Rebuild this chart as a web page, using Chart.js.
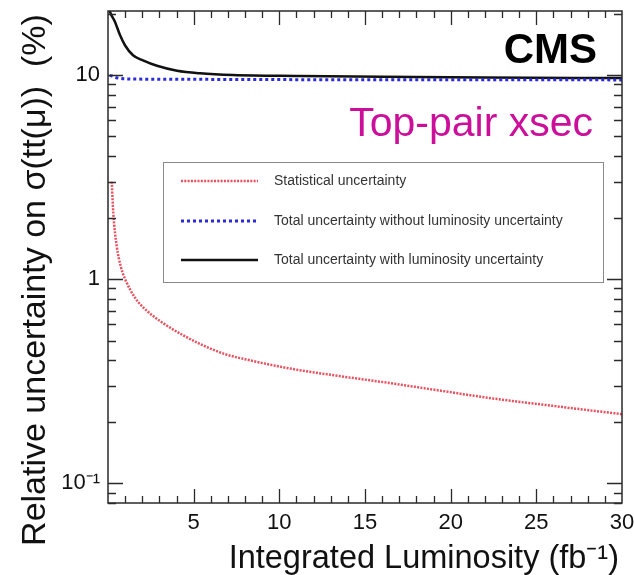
<!DOCTYPE html>
<html>
<head>
<meta charset="utf-8">
<script src="https://cdn.jsdelivr.net/npm/chart.js@4/dist/chart.umd.min.js"></script>
<style>
html,body{margin:0;padding:0;background:#fff;}
#wrap{width:634px;height:575px;position:relative;}
</style>
</head>
<body>
<div id="wrap"><canvas id="c" width="634" height="575"></canvas></div>
<script>
// ---- data ----
const statLumi = [0.22, 0.31, 0.51, 0.75, 1.0, 1.58, 2.35, 3.33, 4.4, 5.4, 6.8, 8.3, 10.6, 13.5, 16.4, 19.3, 22.2, 26.2, 30];
const statUnc  = [3.0, 2.1, 1.45, 1.15, 1.0, 0.81, 0.69, 0.60, 0.53, 0.48, 0.43, 0.40, 0.365, 0.335, 0.31, 0.285, 0.262, 0.238, 0.218];

const noLumiLumi = [0.1, 0.23, 0.5, 1.0, 2.0, 5.0, 10, 20, 30];
const noLumiUnc  = [9.95, 9.9, 9.7, 9.58, 9.55, 9.53, 9.5, 9.48, 9.47];

const withLumiLumi = [0.0, 0.12, 0.41, 0.70, 0.99, 1.46, 2.04, 2.86, 4.03, 5.37, 7.3, 11.2, 16, 22, 30];
const withLumiUnc  = [22.5, 20.4, 18.2, 15.7, 14.0, 12.5, 11.8, 11.1, 10.5, 10.2, 10.0, 9.89, 9.8, 9.72, 9.67];

const seriesLabels = [
  'Statistical uncertainty',
  'Total uncertainty without luminosity uncertainty',
  'Total uncertainty with luminosity uncertainty'
];
const xTickValues = [5, 10, 15, 20, 25, 30];
const yTickValues = [0.1, 1, 10];
const yTickLabels = ['10\u207B\u00B9', '1', '10'];
const xTitle = 'Integrated Luminosity (fb\u207B\u00B9)';
const yTitle = 'Relative uncertainty on \u03C3(tt(\u03BC))  (%)';
const expLabel = 'CMS';
const procLabel = 'Top-pair xsec';

const FONT = '"Liberation Sans", Arial, Helvetica, sans-serif';

function pts(xs, ys){ return xs.map((x,i)=>({x:x, y:ys[i]})); }

const decorPlugin = {
  id: 'decor',
  afterDatasetsDraw(chart){
    const ctx = chart.ctx;
    const a = chart.chartArea;
    const xs = chart.scales.x, ys = chart.scales.y;
    ctx.save();
    // frame
    ctx.strokeStyle = '#2a2a2a';
    ctx.lineWidth = 1.5;
    ctx.strokeRect(a.left, a.top, a.right - a.left, a.bottom - a.top);
    // x ticks inside (bottom & top)
    ctx.lineWidth = 1.3;
    for (let v = 1; v < 30; v++) {
      const px = Math.round(xs.getPixelForValue(v)) + 0.5;
      const len = (v % 5 === 0) ? 14 : 7;
      ctx.beginPath();
      ctx.moveTo(px, a.bottom); ctx.lineTo(px, a.bottom - len);
      ctx.moveTo(px, a.top); ctx.lineTo(px, a.top + len);
      ctx.stroke();
    }
    // y ticks inside (left & right)
    const decades = [0.01, 0.1, 1, 10];
    decades.forEach(d => {
      for (let m = 1; m <= 9; m++) {
        const v = d * m;
        if (v < ys.min || v > ys.max) continue;
        const py = Math.round(ys.getPixelForValue(v)) + 0.5;
        const len = (m === 1) ? 15 : 8;
        ctx.beginPath();
        ctx.moveTo(a.left, py); ctx.lineTo(a.left + len, py);
        ctx.moveTo(a.right, py); ctx.lineTo(a.right - len, py);
        ctx.stroke();
      }
    });
    // legend box
    const lx = 163.5, ly = 162.5, lw = 440, lh = 120;
    ctx.fillStyle = '#fff';
    ctx.fillRect(lx, ly, lw, lh);
    ctx.strokeStyle = '#8a8a8a';
    ctx.lineWidth = 1;
    ctx.strokeRect(lx, ly, lw, lh);
    const rows = [181, 221, 260];
    chart.data.datasets.forEach((ds, i) => {
      const y = rows[i];
      ctx.save();
      ctx.strokeStyle = ds.borderColor;
      ctx.lineWidth = ds.borderWidth;
      ctx.setLineDash(ds.borderDash || []);
      ctx.beginPath();
      ctx.moveTo(181, y); ctx.lineTo(258, y);
      ctx.stroke();
      ctx.restore();
      ctx.fillStyle = '#333';
      ctx.font = '14px ' + FONT;
      ctx.textAlign = 'left';
      ctx.textBaseline = 'middle';
      ctx.fillText(ds.label, 274, y);
    });
    // CMS and process labels
    ctx.fillStyle = '#000';
    ctx.font = 'bold 42px ' + FONT;
    ctx.textAlign = 'right';
    ctx.textBaseline = 'alphabetic';
    ctx.fillText(expLabel, 597, 63);
    ctx.fillStyle = '#cc0f9a';
    ctx.font = '41px ' + FONT;
    ctx.fillText(procLabel, 593, 136);
    // axis titles
    ctx.fillStyle = '#111';
    ctx.font = '32.5px ' + FONT;
    ctx.textAlign = 'right';
    ctx.fillText(xTitle, 619, 568);
    ctx.save();
    ctx.translate(45, 280);
    ctx.rotate(-Math.PI/2);
    ctx.font = '34px ' + FONT;
    ctx.textAlign = 'center';
    ctx.textBaseline = 'alphabetic';
    ctx.fillText(yTitle, 0, 0);
    ctx.restore();
    ctx.restore();
  }
};

new Chart(document.getElementById('c'), {
  type: 'line',
  data: {
    datasets: [
      { label: seriesLabels[0], data: pts(statLumi, statUnc), borderColor: '#e8505e', borderWidth: 2.5, borderDash: [2, 1.3], pointRadius: 0, fill: false, cubicInterpolationMode: 'monotone' },
      { label: seriesLabels[1], data: pts(noLumiLumi, noLumiUnc), borderColor: '#2a2ad8', borderWidth: 3, borderDash: [3, 3], pointRadius: 0, fill: false, cubicInterpolationMode: 'monotone' },
      { label: seriesLabels[2], data: pts(withLumiLumi, withLumiUnc), borderColor: '#111', borderWidth: 2.5, pointRadius: 0, fill: false, cubicInterpolationMode: 'monotone' }
    ]
  },
  options: {
    responsive: false,
    animation: false,
    layout: { padding: { left: 0, top: 11, right: 12, bottom: 0 } },
    plugins: { legend: { display: false }, tooltip: { enabled: false } },
    scales: {
      x: {
        type: 'linear', min: 0, max: 30,
        grid: { display: false, drawTicks: false },
        border: { display: false },
        afterBuildTicks(s){ s.ticks = xTickValues.map(v => ({value: v})); },
        afterFit(s){ s.height = 72; s.paddingLeft = 0; s.paddingRight = 0; },
        ticks: { padding: 7, color: '#111', font: { family: FONT, size: 22 }, maxRotation: 0, autoSkip: false }
      },
      y: {
        type: 'logarithmic', min: 0.08, max: 20.6,
        grid: { display: false, drawTicks: false },
        border: { display: false },
        afterBuildTicks(s){ s.ticks = yTickValues.map(v => ({value: v})); },
        afterFit(s){ s.width = 108; s.paddingTop = 0; s.paddingBottom = 0; },
        ticks: {
          padding: 8, color: '#111', font: { family: FONT, size: 22 }, autoSkip: false,
          callback(v, i){ return yTickLabels[i]; }
        }
      }
    }
  },
  plugins: [decorPlugin]
});
</script>
</body>
</html>
